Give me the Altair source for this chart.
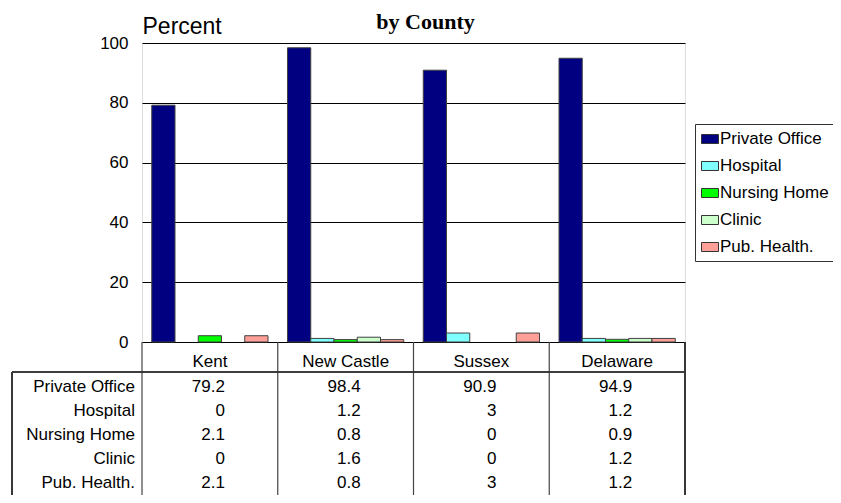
import altair as alt
import pandas as pd

counties = ["Kent", "New Castle", "Sussex", "Delaware"]
series = ["Private Office", "Hospital", "Nursing Home", "Clinic", "Pub. Health."]
private_office = [79.2, 98.4, 90.9, 94.9]
hospital = [0, 1.2, 3, 1.2]
nursing_home = [2.1, 0.8, 0, 0.9]
clinic = [0, 1.6, 0, 1.2]
pub_health = [2.1, 0.8, 3, 1.2]
colors = ["#000080", "#80FFFF", "#00FF00", "#CCFFCC", "#FFA098"]
y_ticks = [0, 20, 40, 60, 80, 100]

values = [private_office, hospital, nursing_home, clinic, pub_health]
rows = []
for s, vals in zip(series, values):
    for c, v in zip(counties, vals):
        rows.append({"county": c, "series": s, "value": v, "label": f"{v:g}"})
df = pd.DataFrame(rows)
df_series = pd.DataFrame({"series": series})
df_counties = pd.DataFrame({"county": counties})

W, H = 543, 299
FONT = "Liberation Sans"
FS = 17

x_axis = alt.Axis(title=None, orient="bottom", labelFont=FONT, labelFontSize=FS,
                  labelColor="black", labelPadding=19, labelBaseline="middle",
                  ticks=False, tickSize=0, domain=False, labelAngle=0)
x_scale = alt.Scale(domain=counties, paddingInner=0, paddingOuter=0)

bars = alt.Chart(df).transform_filter("datum.value > 0").mark_bar(
    stroke="#404040", strokeWidth=1
).encode(
    x=alt.X("county:N", sort=counties, scale=x_scale, axis=x_axis),
    xOffset=alt.XOffset("series:N", sort=series,
                        scale=alt.Scale(domain=series, paddingInner=0, paddingOuter=0.42)),
    y=alt.Y("value:Q", scale=alt.Scale(domain=[0, 100], nice=False),
            axis=alt.Axis(values=y_ticks, title="Percent", titleAngle=0, titleX=0, titleY=-10,
                          titleAlign="left", titleBaseline="alphabetic", titleFont=FONT,
                          titleFontSize=23, titleFontWeight="normal", titleColor="black",
                          labelFont=FONT, labelFontSize=FS, labelColor="black", labelPadding=14,
                          ticks=False, tickSize=0, domain=False, grid=True,
                          gridColor="black", gridWidth=1, gridOpacity=1)),
    color=alt.Color("series:N", sort=series,
                    scale=alt.Scale(domain=series, range=colors),
                    legend=alt.Legend(orient="none", legendX=553, legendY=81, title=None,
                                      fillColor="white", strokeColor="#333", padding=6,
                                      symbolType="M-1,-0.53H1V0.53H-1Z", symbolSize=289,
                                      symbolStrokeColor="#333", symbolStrokeWidth=1,
                                      symbolOpacity=1, labelFont=FONT, labelFontSize=FS,
                                      labelColor="black", rowPadding=10, labelOffset=1,
                                      labelLimit=300)),
)

row_scale = alt.Scale(domain=series, range=[344, 440], padding=0)

table_values = alt.Chart(df).mark_text(
    font=FONT, fontSize=FS, color="black", align="right", baseline="middle", dx=15
).encode(
    x=alt.X("county:N", sort=counties, scale=x_scale, axis=x_axis),
    y=alt.Y("series:N", sort=series, scale=row_scale, axis=None),
    text="label:N",
)

row_labels = alt.Chart(df_series).mark_text(
    font=FONT, fontSize=FS, color="black", align="right", baseline="middle"
).encode(
    x=alt.value(-7),
    y=alt.Y("series:N", sort=series, scale=row_scale, axis=None),
    text="series:N",
)

separators = alt.Chart(df_counties).mark_rule(color="#444", strokeWidth=1.2).encode(
    x=alt.X("county:N", sort=counties, scale=x_scale, axis=x_axis, bandPosition=0),
    y=alt.value(H),
    y2=alt.value(H + 200),
)

right_edge = alt.Chart(df_counties).mark_rule(color="#333", strokeWidth=1.2).encode(
    x=alt.value(W), y=alt.value(H), y2=alt.value(H + 200)
)
header_line = alt.Chart(df_counties).mark_rule(color="#333", strokeWidth=1.2).encode(
    x=alt.value(-130), x2=alt.value(W), y=alt.value(329)
)
left_border = alt.Chart(df_counties).mark_rule(color="#333", strokeWidth=1.2).encode(
    x=alt.value(-130), y=alt.value(329), y2=alt.value(H + 200)
)

chart = alt.layer(
    bars, table_values, row_labels, separators, right_edge, header_line, left_border
).resolve_scale(y="independent").properties(
    width=W, height=H,
    autosize=alt.AutoSizeParams(type="none"),
    padding={"left": 134, "top": 35, "right": 148, "bottom": 153},
    title=alt.TitleParams("by County", font="Liberation Serif", fontSize=22,
                          fontWeight="bold", color="black", anchor="middle",
                          frame="group", offset=0, dy=19, dx=12),
).configure_view(stroke="#333", strokeWidth=1.5).configure(background="white")

chart.save("out.html", embed_options={"renderer": "svg", "actions": False})
